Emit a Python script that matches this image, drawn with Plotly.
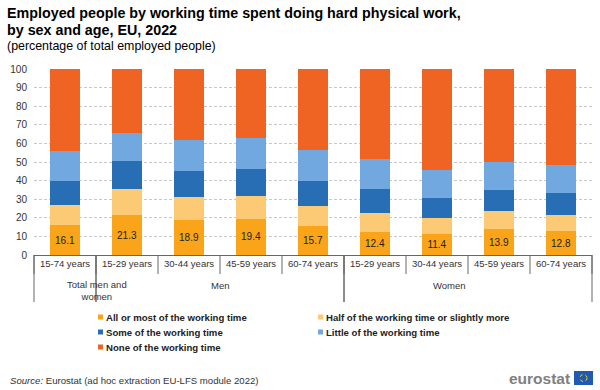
import plotly.graph_objects as go

# ---- data ----
groups = ["Total men and women", "Men", "Men", "Men", "Men", "Women", "Women", "Women", "Women"]
ages = ["15-74 years", "15-29 years", "30-44 years", "45-59 years", "60-74 years",
        "15-29 years", "30-44 years", "45-59 years", "60-74 years"]
all_most = [16.1, 21.3, 18.9, 19.4, 15.7, 12.4, 11.4, 13.9, 12.8]
half = [11.0, 14.2, 12.5, 12.3, 10.5, 10.4, 8.3, 9.6, 8.7]
some = [12.9, 14.9, 13.6, 14.5, 13.6, 12.5, 11.1, 11.4, 11.7]
little = [15.9, 15.4, 16.8, 16.5, 16.7, 16.1, 14.9, 15.3, 15.2]
none = [44.1, 34.2, 38.2, 37.3, 43.5, 48.6, 54.3, 49.8, 51.6]
series_names = ["All or most of the working time", "Half of the working time or slightly more",
                "Some of the working time", "Little of the working time", "None of the working time"]
colors = ["#FAA519", "#FCC975", "#286EB4", "#71A8DF", "#F06423"]
y_ticks = [0, 10, 20, 30, 40, 50, 60, 70, 80, 90, 100]
group_labels = ["Total men and<br>women", "Men", "Women"]
group_spans = [(0, 1), (1, 5), (5, 9)]

FONT = "Liberation Sans, Arial, sans-serif"
W, H = 600, 390
L, R, T, B = 34, 8, 69, 135
PW, PH = W - L - R, H - T - B


def X(px):
    return (px - L) / PW


def Y(py):
    return (H - B - py) / PH


keys = [f"{g}|{a}" for g, a in zip(groups, ages)]
values = [all_most, half, some, little, none]

fig = go.Figure()
for i, (name, vals, col) in enumerate(zip(series_names, values, colors)):
    kw = {}
    if i == 0:
        kw = dict(text=[f"{v:.1f}" for v in vals], textposition="inside",
                  insidetextanchor="middle", textangle=0,
                  textfont=dict(family=FONT, size=10, color="#222222"))
    fig.add_trace(go.Bar(x=keys, y=vals, name=name, marker=dict(color=col, line=dict(width=0)),
                         showlegend=False, hoverinfo="skip", **kw))

n = len(keys)
shapes = []
annotations = []
# category separators (row 1)
for i in range(n + 1):
    shapes.append(dict(type="line", xref="paper", yref="paper", x0=i / n, x1=i / n,
                       y0=0, y1=Y(274), line=dict(color="#666666", width=1)))
# group separators (row 2)
for (a, b) in group_spans:
    for e in (a, b):
        shapes.append(dict(type="line", xref="paper", yref="paper", x0=e / n, x1=e / n,
                           y0=0, y1=Y(302), line=dict(color="#666666", width=1)))
for lab, (a, b) in zip(group_labels, group_spans):
    two = "<br>" in lab
    annotations.append(dict(text=lab, xref="paper", yref="paper", x=(a + b) / 2 / n,
                            y=Y(277) if two else Y(285), yanchor="top" if two else "middle",
                            showarrow=False, font=dict(family=FONT, size=9.5, color="#333333")))

# custom legend
leg_pos = [(98, 317), (318, 317), (98, 332), (318, 332), (98, 347)]
for (lx, ly), name, col in zip(leg_pos, series_names, colors):
    shapes.append(dict(type="rect", xref="paper", yref="paper", x0=X(lx), x1=X(lx + 5),
                       y0=Y(ly + 2.5), y1=Y(ly - 2.5), fillcolor=col, line=dict(width=0)))
    annotations.append(dict(text=f"<b>{name}</b>", xref="paper", yref="paper", x=X(lx + 6),
                            y=Y(ly), xanchor="left", yanchor="middle", showarrow=False,
                            font=dict(family=FONT, size=9.6, color="#222222")))

# titles
for txt, yy in (("Employed people by working time spent doing hard physical work,", 13),
                ("by sex and age, EU, 2022", 30)):
    annotations.append(dict(text=f"<b>{txt}</b>", xref="paper", yref="paper", x=X(5), y=Y(yy),
                            xanchor="left", yanchor="middle", align="left", showarrow=False,
                            font=dict(family=FONT, size=14.3, color="#000000")))
annotations.append(dict(text="(percentage of total employed people)", xref="paper", yref="paper",
                        x=X(5), y=Y(46), xanchor="left", yanchor="middle", showarrow=False,
                        font=dict(family=FONT, size=12.4, color="#000000")))
# source
annotations.append(dict(text="<i>Source:</i> Eurostat (ad hoc extraction EU-LFS module 2022)",
                        xref="paper", yref="paper", x=X(8), y=Y(381), xanchor="left", yanchor="middle",
                        showarrow=False, font=dict(family=FONT, size=9.6, color="#333333")))
# eurostat logo
annotations.append(dict(text="<b>eurostat</b>", xref="paper", yref="paper", x=X(572), y=Y(378),
                        xanchor="right", yanchor="middle", showarrow=False,
                        font=dict(family=FONT, size=15.5, color="#7F7F7F")))
shapes.append(dict(type="rect", xref="paper", yref="paper", x0=X(574), x1=X(593),
                   y0=Y(385), y1=Y(371), fillcolor="#1F5BB5", line=dict(width=0)))
shapes.append(dict(type="circle", xref="paper", yref="paper", x0=X(580), x1=X(587),
                   y0=Y(381.5), y1=Y(374.5), line=dict(color="#FFDD00", width=1, dash="dot")))

fig.update_layout(
    width=W, height=H, barmode="stack", bargap=0.52,
    margin=dict(l=L, r=R, t=T, b=B, pad=0),
    plot_bgcolor="white", paper_bgcolor="white",
    font=dict(family=FONT, size=10, color="#333333"),
    xaxis=dict(type="category", tickvals=keys, ticktext=ages, showgrid=False,
               showline=True, linecolor="#666666", linewidth=1, ticks="",
               tickfont=dict(size=9.5, color="#333333"), fixedrange=True),
    yaxis=dict(range=[0, 100], tickvals=y_ticks, showgrid=True, gridcolor="#C8C8C8",
               griddash="3px,2px", gridwidth=1, zeroline=False, showline=False, ticks="",
               tickfont=dict(size=10, color="#333333"), ticklabelstandoff=6, fixedrange=True),
    shapes=shapes, annotations=annotations, showlegend=False,
)

fig.write_html("out.html", config={"displayModeBar": False, "staticPlot": True},
               post_script="document.body.style.margin='0';document.body.style.overflow='hidden';")
